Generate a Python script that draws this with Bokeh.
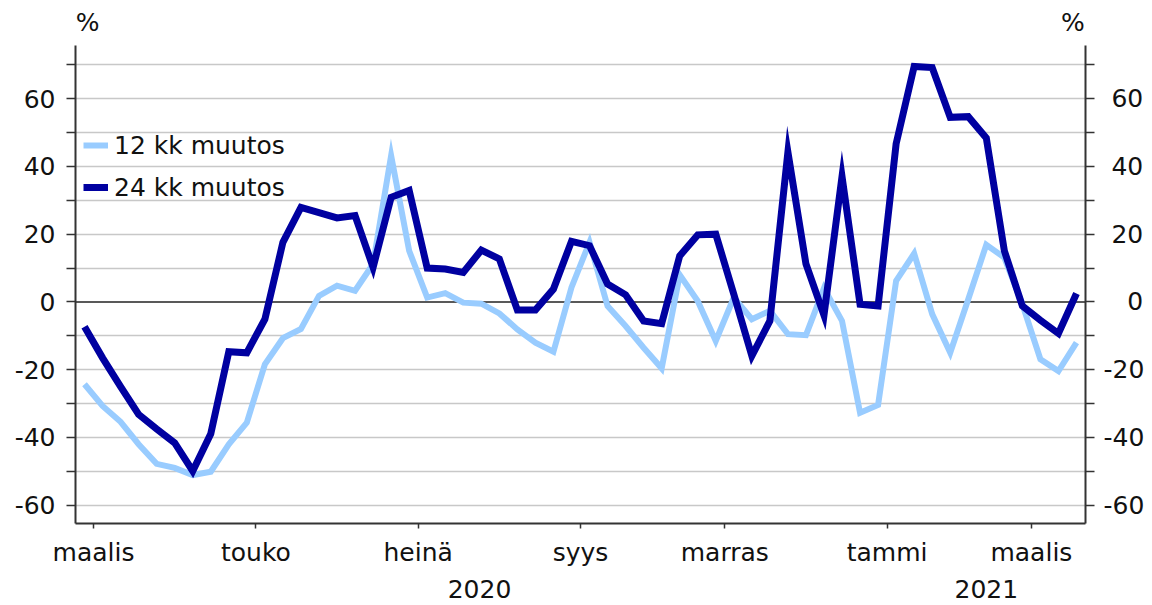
from bokeh.plotting import figure
from bokeh.models import (Range1d, LinearAxis, FixedTicker, Span,
                          Legend, LegendItem)
from bokeh.embed import file_html
from bokeh.resources import INLINE

# ---- data (weekly observations, March 2020 - March 2021) ----
week_index = list(range(56))
muutos_12 = [-24.3, -30.7, -35.4, -42.0, -47.8, -49.0, -51.1, -50.1, -42.0, -35.6,
             -18.4, -10.7, -8.0, 1.8, 4.8, 3.3, 11.2, 43.2, 15.1, 1.3,
             2.6, -0.2, -0.5, -3.4, -8.1, -12.0, -14.7, 4.3, 17.6, -1.2,
             -7.1, -13.5, -19.6, 8.0, 0.3, -11.5, 1.3, -5.1, -2.6, -9.5,
             -9.8, 4.1, -5.6, -32.7, -30.4, 6.2, 14.3, -3.6, -15.0, 0.8,
             16.9, 13.1, -0.7, -16.9, -20.4, -12.0]
muutos_24 = [-7.3, -16.5, -25.0, -33.2, -37.5, -41.6, -49.9, -38.9, -14.7, -15.0,
             -5.1, 17.6, 27.9, 26.4, 24.8, 25.5, 10.2, 30.9, 32.9, 10.0,
             9.7, 8.7, 15.3, 12.7, -2.4, -2.4, 3.8, 17.9, 16.6, 5.3,
             2.1, -5.6, -6.4, 13.6, 19.8, 20.0, 2.3, -15.9, -5.6, 44.2,
             11.2, -3.9, 37.0, -0.7, -1.2, 46.7, 69.5, 69.2, 54.5, 54.7,
             48.4, 15.1, -1.2, -5.4, -9.3, 2.5]
series_names = ["12 kk muutos", "24 kk muutos"]

month_tick_pos = [0.5, 9.5, 18.5, 27.5, 35.5, 44.5, 52.5]
month_labels = ["maalis", "touko", "heinä", "syys", "marras", "tammi", "maalis"]
year_pos = [21.9, 50.0]
year_labels = ["2020", "2021"]
unit_pos = [0.17, 54.8]
unit_labels = ["%", "%"]
y_ticks = [-60, -50, -40, -30, -20, -10, 0, 10, 20, 30, 40, 50, 60, 70]
y_label_ticks = [-60, -40, -20, 0, 20, 40, 60]

# ---- styling ----
FONT = "DejaVu Sans"
FS = "25px"
TXT = "#111111"
LIGHT = "#99ccff"
DARK = "#0000a0"
AX = "#333333"

X0, X1 = -0.5, 55.5
Y0, Y1 = -65.4, 75.7

p = figure(width=1150, height=605, output_backend="svg", toolbar_location=None,
           x_range=Range1d(X0, X1), y_range=Range1d(Y0, Y1),
           min_border_left=75, min_border_right=65, min_border_top=45,
           min_border_bottom=82, outline_line_color=None,
           background_fill_color="white", border_fill_color="white")

# grid
p.xgrid.grid_line_color = None
p.ygrid.ticker = FixedTicker(ticks=[v for v in y_ticks if v != 0])
p.ygrid.grid_line_color = "#c8c8c8"
p.ygrid.grid_line_width = 1.3

zero = Span(location=0, dimension="width", line_color="#222222",
            line_width=1.6, level="underlay")
p.add_layout(zero)

# lines
r12 = p.line(week_index, muutos_12, line_color=LIGHT, line_width=6,
             line_join="miter")
r24 = p.line(week_index, muutos_24, line_color=DARK, line_width=7,
             line_join="miter")


def text_style(ax, standoff):
    ax.major_label_text_font = FONT
    ax.major_label_text_font_size = FS
    ax.major_label_text_color = TXT
    ax.major_label_standoff = standoff


# x axis (months)
xa = p.xaxis[0]
xa.ticker = FixedTicker(ticks=month_tick_pos, minor_ticks=[])
xa.major_label_overrides = {pos: lab for pos, lab in zip(month_tick_pos, month_labels)}
xa.major_tick_out = 5
xa.major_tick_in = 0
xa.minor_tick_out = 0
xa.minor_tick_in = 0
xa.axis_line_color = AX
xa.axis_line_width = 2
xa.major_tick_line_color = AX
xa.major_tick_line_width = 1.5
text_style(xa, 9)

# second x axis (years)
ya_axis = LinearAxis(ticker=FixedTicker(ticks=year_pos, minor_ticks=[]),
                     major_label_overrides={pos: lab for pos, lab in zip(year_pos, year_labels)},
                     axis_line_color=None, major_tick_line_color=None,
                     minor_tick_line_color=None)
text_style(ya_axis, 4)
p.add_layout(ya_axis, "below")

# top axis carrying the unit labels
ua = LinearAxis(ticker=FixedTicker(ticks=unit_pos, minor_ticks=[]),
                major_label_overrides={pos: lab for pos, lab in zip(unit_pos, unit_labels)},
                axis_line_color=None, major_tick_line_color=None,
                minor_tick_line_color=None)
text_style(ua, 3)
p.add_layout(ua, "above")


def right_pad(v):
    s = str(v)
    if v < 0:
        return s
    if v == 0:
        return "\u2007\u2008" + s
    return "\u2008" + s


def style_y(ax, right):
    ax.ticker = FixedTicker(ticks=y_ticks, minor_ticks=[])
    ax.major_label_overrides = {
        v: ((right_pad(v) if right else str(v)) if v in y_label_ticks else "")
        for v in y_ticks}
    ax.major_tick_out = 9
    ax.major_tick_in = 0
    ax.minor_tick_out = 0
    ax.minor_tick_in = 0
    ax.axis_line_color = AX
    ax.axis_line_width = 2
    ax.major_tick_line_color = AX
    ax.major_tick_line_width = 1.5
    text_style(ax, 9 if right else 11)


style_y(p.yaxis[0], False)
ra = LinearAxis()
style_y(ra, True)
p.add_layout(ra, "right")

legend = Legend(items=[LegendItem(label=series_names[0], renderers=[r12]),
                       LegendItem(label=series_names[1], renderers=[r24])],
                location=(8, 315), border_line_color=None,
                background_fill_alpha=0, padding=0, margin=0, spacing=0,
                glyph_width=25, glyph_height=42, label_height=42,
                label_standoff=6, label_text_font=FONT,
                label_text_font_size=FS, label_text_color=TXT)
p.add_layout(legend)

open("out.html", "w").write(file_html(p, INLINE))
